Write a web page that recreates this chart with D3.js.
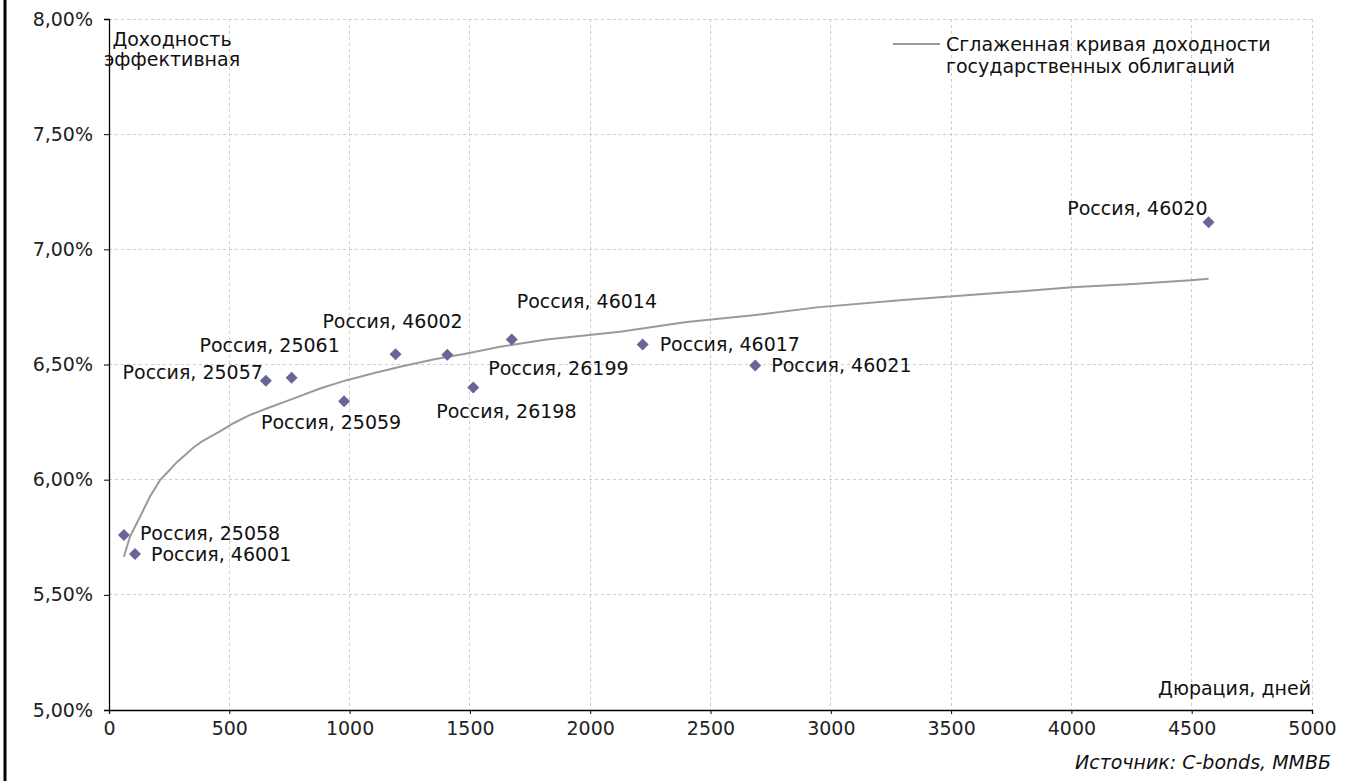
<!DOCTYPE html>
<html>
<head>
<meta charset="utf-8">
<script src="https://cdn.jsdelivr.net/npm/d3@7"></script>
<style>
  html, body { margin: 0; padding: 0; background: #ffffff; }
  svg { display: block; font-family: "DejaVu Sans", Verdana, sans-serif; }
</style>
</head>
<body>
<svg id="chart" width="1350" height="781"></svg>
<script>
// ---- data ----
const bondNames = ["Россия, 25058", "Россия, 46001", "Россия, 25057", "Россия, 25061",
  "Россия, 25059", "Россия, 46002", "Россия, 26199", "Россия, 26198", "Россия, 46014",
  "Россия, 46017", "Россия, 46021", "Россия, 46020"];
const bondDuration = [62, 108, 652, 759, 977, 1191, 1406, 1514, 1674, 2218, 2686, 4570];
const bondYield = [5.76, 5.677, 6.429, 6.443, 6.34, 6.544, 6.542, 6.40, 6.609, 6.587, 6.496, 7.118];

const curveDuration = [62, 87, 129, 170, 212, 250, 281, 320, 351, 385, 420, 470, 517, 580, 655,
  766, 877, 988, 1099, 1210, 1348, 1487, 1625, 1819, 2124, 2401, 2678, 2941, 3300, 3703, 4002,
  4257, 4497, 4570];
const curveYield = [5.665, 5.752, 5.839, 5.926, 5.998, 6.04, 6.075, 6.11, 6.14, 6.165, 6.186,
  6.215, 6.245, 6.278, 6.309, 6.352, 6.396, 6.432, 6.462, 6.49, 6.522, 6.548, 6.577, 6.609,
  6.642, 6.685, 6.714, 6.748, 6.78, 6.811, 6.835, 6.849, 6.866, 6.872];

const xTicks = [0, 500, 1000, 1500, 2000, 2500, 3000, 3500, 4000, 4500, 5000];
const yTicks = [5.0, 5.5, 6.0, 6.5, 7.0, 7.5, 8.0];

const legendLines = ["Сглаженная кривая доходности", "государственных облигаций"];
const yTitleLines = ["Доходность", "эффективная"];
const xTitle = "Дюрация, дней";
const sourceText = "Источник: C-bonds, ММВБ";

// ---- label placement (layout, px offsets from point) ----
const labelDx = [16, 16, -3, -22, -13, -3, 41, -37, 5, 17, 16, -1];
const labelDy = [5, 7, -2, -26, 28, -26, 20, 30, -31, 7, 7, -7];
const labelAnchor = ["start", "start", "end", "middle", "middle", "middle", "start", "start",
  "start", "start", "start", "end"];

// ---- drawing ----
const svg = d3.select("#chart");
const margin = { left: 109, right: 1312, top: 19, bottom: 710 };
const x = d3.scaleLinear().domain([0, 5000]).range([margin.left, margin.right]);
const y = d3.scaleLinear().domain([5, 8]).range([margin.bottom, margin.top]);
const ruLocale = d3.formatLocale({ decimal: ",", thousands: " ", grouping: [3], currency: ["", ""] });
const pctFmt = ruLocale.format(".2f");
const FS = 19;

// left frame line
svg.append("line").attr("x1", 5).attr("x2", 5).attr("y1", 0).attr("y2", 781)
  .attr("stroke", "#000").attr("stroke-width", 3);

// gridlines
const grid = svg.append("g");
grid.selectAll("line.v").data(xTicks.filter(d => d > 0)).enter().append("line")
  .attr("x1", d => x(d)).attr("x2", d => x(d)).attr("y1", y(8)).attr("y2", y(5))
  .attr("stroke", "#cccccc").attr("stroke-width", 1).attr("stroke-dasharray", "3,3")
  .attr("shape-rendering", "crispEdges");
grid.selectAll("line.h").data(yTicks.filter(d => d > 5)).enter().append("line")
  .attr("x1", x(0)).attr("x2", x(5000)).attr("y1", d => y(d)).attr("y2", d => y(d))
  .attr("stroke", "#cccccc").attr("stroke-width", 1).attr("stroke-dasharray", "3,3")
  .attr("shape-rendering", "crispEdges");

// axes
const xAxis = d3.axisBottom(x).tickValues(xTicks).tickSize(4).tickPadding(8).tickFormat(d3.format("d"));
const yAxis = d3.axisLeft(y).tickValues(yTicks).tickSize(5).tickPadding(11).tickFormat(d => pctFmt(d) + "%");
const gx = svg.append("g").attr("transform", `translate(0,${y(5)})`).call(xAxis);
const gy = svg.append("g").attr("transform", `translate(${x(0)},0)`).call(yAxis);
[gx, gy].forEach(g => {
  g.select(".domain").attr("stroke", "#000").attr("stroke-width", 1.3);
  g.selectAll(".tick line").attr("stroke", "#000");
  g.selectAll(".tick text").attr("fill", "#222").attr("font-size", FS)
    .attr("font-family", "DejaVu Sans, Verdana, sans-serif");
});

// curve
const line = d3.line().x(d => x(d[0])).y(d => y(d[1]));
svg.append("path").datum(curveDuration.map((d, i) => [d, curveYield[i]]))
  .attr("d", line).attr("fill", "none").attr("stroke", "#9a9a9a").attr("stroke-width", 2);

// points (square diamonds)
const pts = bondDuration.map((d, i) => ({ d, yv: bondYield[i], name: bondNames[i], i }));
const diamond = "M0,-6L6,0L0,6L-6,0Z";
svg.append("g").selectAll("path").data(pts).enter().append("path")
  .attr("d", diamond)
  .attr("transform", p => `translate(${x(p.d)},${y(p.yv)})`)
  .attr("fill", "#666699");

// labels
svg.append("g").selectAll("text").data(pts).enter().append("text")
  .attr("x", p => x(p.d) + labelDx[p.i])
  .attr("y", p => y(p.yv) + labelDy[p.i])
  .attr("text-anchor", p => labelAnchor[p.i])
  .attr("font-size", FS).attr("fill", "#111")
  .text(p => p.name);

// y title
svg.append("g").selectAll("text").data(yTitleLines).enter().append("text")
  .attr("x", 172).attr("y", (d, i) => 46 + i * 20)
  .attr("text-anchor", "middle").attr("font-size", FS).attr("fill", "#111")
  .text(d => d);

// x title
svg.append("text").attr("x", 1311).attr("y", 695).attr("text-anchor", "end")
  .attr("font-size", FS).attr("fill", "#111").text(xTitle);

// legend
svg.append("line").attr("x1", 893).attr("x2", 940).attr("y1", 44).attr("y2", 44)
  .attr("stroke", "#9a9a9a").attr("stroke-width", 2);
svg.append("g").selectAll("text").data(legendLines).enter().append("text")
  .attr("x", 946).attr("y", (d, i) => 51 + i * 22)
  .attr("font-size", FS).attr("fill", "#111").text(d => d);

// source
svg.append("text").attr("x", 1331).attr("y", 769).attr("text-anchor", "end")
  .attr("font-size", FS).attr("font-style", "italic").attr("fill", "#111").text(sourceText);
</script>
</body>
</html>
